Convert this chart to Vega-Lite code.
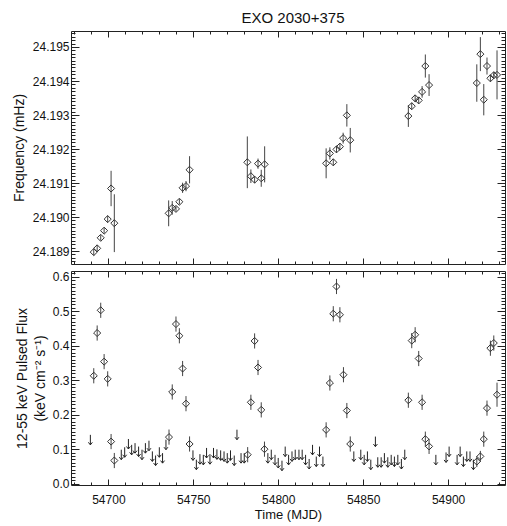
{
  "$schema": "https://vega.github.io/schema/vega-lite/v6.json",
  "padding": {"left": 11, "top": 10, "right": 3, "bottom": 4},
  "background": "white",
  "config": {
    "font": "Liberation Sans",
    "view": {"stroke": "#222", "strokeWidth": 1},
    "concat": {"spacing": 5},
    "axis": {"domain": false, "grid": false, "tickColor": "#222", "tickWidth": 1, "labelColor": "#111", "titleColor": "#111", "labelFontSize": 12, "titleFontSize": 14, "titleFontWeight": "normal", "labelFlush": false, "labelOverlap": false}
  },
  "datasets": {
    "freq": [
      {"mjd": 54691.4, "f": 24.18897, "lo": 24.18887, "hi": 24.18907},
      {"mjd": 54693.4, "f": 24.18908, "lo": 24.18898, "hi": 24.18918},
      {"mjd": 54695.5, "f": 24.18939, "lo": 24.18931, "hi": 24.18947},
      {"mjd": 54697.5, "f": 24.18960, "lo": 24.18952, "hi": 24.18968},
      {"mjd": 54699.6, "f": 24.18994, "lo": 24.18984, "hi": 24.19004},
      {"mjd": 54701.6, "f": 24.19084, "lo": 24.19032, "hi": 24.19136},
      {"mjd": 54703.5, "f": 24.18982, "lo": 24.18897, "hi": 24.19067},
      {"mjd": 54735.5, "f": 24.19011, "lo": 24.18973, "hi": 24.19049},
      {"mjd": 54737.6, "f": 24.19027, "lo": 24.19007, "hi": 24.19047},
      {"mjd": 54739.8, "f": 24.19024, "lo": 24.19016, "hi": 24.19032},
      {"mjd": 54741.8, "f": 24.19045, "lo": 24.19037, "hi": 24.19053},
      {"mjd": 54743.7, "f": 24.19086, "lo": 24.19071, "hi": 24.19101},
      {"mjd": 54745.7, "f": 24.19091, "lo": 24.19076, "hi": 24.19106},
      {"mjd": 54747.8, "f": 24.19139, "lo": 24.19099, "hi": 24.19179},
      {"mjd": 54781.8, "f": 24.19161, "lo": 24.19085, "hi": 24.19237},
      {"mjd": 54783.9, "f": 24.19120, "lo": 24.19100, "hi": 24.19140},
      {"mjd": 54786.1, "f": 24.19110, "lo": 24.19100, "hi": 24.19120},
      {"mjd": 54788.1, "f": 24.19157, "lo": 24.19142, "hi": 24.19172},
      {"mjd": 54790.0, "f": 24.19114, "lo": 24.19089, "hi": 24.19139},
      {"mjd": 54792.0, "f": 24.19155, "lo": 24.19102, "hi": 24.19208},
      {"mjd": 54828.2, "f": 24.19158, "lo": 24.19114, "hi": 24.19202},
      {"mjd": 54830.4, "f": 24.19187, "lo": 24.19169, "hi": 24.19205},
      {"mjd": 54832.4, "f": 24.19161, "lo": 24.19151, "hi": 24.19171},
      {"mjd": 54834.3, "f": 24.19199, "lo": 24.19189, "hi": 24.19209},
      {"mjd": 54836.3, "f": 24.19207, "lo": 24.19197, "hi": 24.19217},
      {"mjd": 54838.2, "f": 24.19232, "lo": 24.19216, "hi": 24.19248},
      {"mjd": 54840.4, "f": 24.19299, "lo": 24.19266, "hi": 24.19332},
      {"mjd": 54842.4, "f": 24.19226, "lo": 24.19190, "hi": 24.19262},
      {"mjd": 54876.6, "f": 24.19297, "lo": 24.19265, "hi": 24.19329},
      {"mjd": 54878.6, "f": 24.19326, "lo": 24.19316, "hi": 24.19336},
      {"mjd": 54880.6, "f": 24.19349, "lo": 24.19339, "hi": 24.19359},
      {"mjd": 54882.7, "f": 24.19343, "lo": 24.19333, "hi": 24.19353},
      {"mjd": 54884.7, "f": 24.19368, "lo": 24.19351, "hi": 24.19385},
      {"mjd": 54886.6, "f": 24.19444, "lo": 24.19410, "hi": 24.19478},
      {"mjd": 54888.8, "f": 24.19388, "lo": 24.19356, "hi": 24.19420},
      {"mjd": 54916.9, "f": 24.19394, "lo": 24.19339, "hi": 24.19449},
      {"mjd": 54919.0, "f": 24.19479, "lo": 24.19429, "hi": 24.19529},
      {"mjd": 54921.0, "f": 24.19345, "lo": 24.19299, "hi": 24.19391},
      {"mjd": 54922.9, "f": 24.19444, "lo": 24.19419, "hi": 24.19469},
      {"mjd": 54924.9, "f": 24.19408, "lo": 24.19398, "hi": 24.19418},
      {"mjd": 54926.9, "f": 24.19417, "lo": 24.19407, "hi": 24.19427},
      {"mjd": 54928.8, "f": 24.19418, "lo": 24.19346, "hi": 24.19490}
    ],
    "flux": [
      {"mjd": 54691.4, "flux": 0.313, "lo": 0.291, "hi": 0.335},
      {"mjd": 54693.4, "flux": 0.437, "lo": 0.415, "hi": 0.459},
      {"mjd": 54695.5, "flux": 0.503, "lo": 0.481, "hi": 0.525},
      {"mjd": 54697.5, "flux": 0.354, "lo": 0.332, "hi": 0.376},
      {"mjd": 54699.6, "flux": 0.304, "lo": 0.282, "hi": 0.326},
      {"mjd": 54701.6, "flux": 0.122, "lo": 0.100, "hi": 0.144},
      {"mjd": 54703.5, "flux": 0.067, "lo": 0.045, "hi": 0.089},
      {"mjd": 54735.7, "flux": 0.135, "lo": 0.113, "hi": 0.157},
      {"mjd": 54737.6, "flux": 0.266, "lo": 0.244, "hi": 0.288},
      {"mjd": 54739.8, "flux": 0.463, "lo": 0.441, "hi": 0.485},
      {"mjd": 54741.8, "flux": 0.429, "lo": 0.407, "hi": 0.451},
      {"mjd": 54743.7, "flux": 0.334, "lo": 0.312, "hi": 0.356},
      {"mjd": 54745.7, "flux": 0.232, "lo": 0.210, "hi": 0.254},
      {"mjd": 54747.8, "flux": 0.115, "lo": 0.093, "hi": 0.137},
      {"mjd": 54782.0, "flux": 0.084, "lo": 0.062, "hi": 0.106},
      {"mjd": 54783.9, "flux": 0.236, "lo": 0.214, "hi": 0.258},
      {"mjd": 54786.1, "flux": 0.414, "lo": 0.392, "hi": 0.436},
      {"mjd": 54788.1, "flux": 0.337, "lo": 0.315, "hi": 0.359},
      {"mjd": 54790.0, "flux": 0.214, "lo": 0.192, "hi": 0.236},
      {"mjd": 54791.9, "flux": 0.100, "lo": 0.078, "hi": 0.122},
      {"mjd": 54828.2, "flux": 0.156, "lo": 0.134, "hi": 0.178},
      {"mjd": 54830.4, "flux": 0.292, "lo": 0.270, "hi": 0.314},
      {"mjd": 54832.4, "flux": 0.493, "lo": 0.471, "hi": 0.515},
      {"mjd": 54834.3, "flux": 0.572, "lo": 0.550, "hi": 0.594},
      {"mjd": 54836.3, "flux": 0.490, "lo": 0.468, "hi": 0.512},
      {"mjd": 54838.4, "flux": 0.316, "lo": 0.294, "hi": 0.338},
      {"mjd": 54840.4, "flux": 0.212, "lo": 0.190, "hi": 0.234},
      {"mjd": 54842.4, "flux": 0.115, "lo": 0.093, "hi": 0.137},
      {"mjd": 54876.6, "flux": 0.242, "lo": 0.220, "hi": 0.264},
      {"mjd": 54878.6, "flux": 0.415, "lo": 0.393, "hi": 0.437},
      {"mjd": 54880.6, "flux": 0.432, "lo": 0.410, "hi": 0.454},
      {"mjd": 54882.7, "flux": 0.363, "lo": 0.341, "hi": 0.385},
      {"mjd": 54884.7, "flux": 0.236, "lo": 0.214, "hi": 0.258},
      {"mjd": 54886.6, "flux": 0.129, "lo": 0.107, "hi": 0.151},
      {"mjd": 54888.8, "flux": 0.108, "lo": 0.086, "hi": 0.130},
      {"mjd": 54916.9, "flux": 0.064, "lo": 0.048, "hi": 0.080},
      {"mjd": 54919.0, "flux": 0.079, "lo": 0.063, "hi": 0.095},
      {"mjd": 54921.0, "flux": 0.129, "lo": 0.107, "hi": 0.151},
      {"mjd": 54922.9, "flux": 0.219, "lo": 0.197, "hi": 0.241},
      {"mjd": 54924.9, "flux": 0.393, "lo": 0.371, "hi": 0.415},
      {"mjd": 54926.9, "flux": 0.408, "lo": 0.386, "hi": 0.430},
      {"mjd": 54928.8, "flux": 0.258, "lo": 0.223, "hi": 0.293}
    ],
    "ul": [
      {"mjd": 54689.4, "flux": 0.127}, {"mjd": 54707.6, "flux": 0.084}, {"mjd": 54709.6, "flux": 0.091},
      {"mjd": 54711.8, "flux": 0.115}, {"mjd": 54713.7, "flux": 0.098}, {"mjd": 54715.7, "flux": 0.103},
      {"mjd": 54717.8, "flux": 0.093}, {"mjd": 54719.8, "flux": 0.084}, {"mjd": 54721.8, "flux": 0.103},
      {"mjd": 54723.9, "flux": 0.110}, {"mjd": 54725.9, "flux": 0.079}, {"mjd": 54727.8, "flux": 0.067},
      {"mjd": 54730.0, "flux": 0.091}, {"mjd": 54731.9, "flux": 0.074}, {"mjd": 54733.9, "flux": 0.113},
      {"mjd": 54749.8, "flux": 0.082}, {"mjd": 54751.8, "flux": 0.055}, {"mjd": 54753.9, "flux": 0.071},
      {"mjd": 54755.9, "flux": 0.069}, {"mjd": 54757.8, "flux": 0.089}, {"mjd": 54759.8, "flux": 0.071},
      {"mjd": 54761.9, "flux": 0.089}, {"mjd": 54763.9, "flux": 0.085}, {"mjd": 54766.1, "flux": 0.082},
      {"mjd": 54768.1, "flux": 0.079}, {"mjd": 54770.0, "flux": 0.074}, {"mjd": 54771.9, "flux": 0.082},
      {"mjd": 54774.1, "flux": 0.067}, {"mjd": 54775.7, "flux": 0.142}, {"mjd": 54778.1, "flux": 0.074},
      {"mjd": 54780.0, "flux": 0.074}, {"mjd": 54793.9, "flux": 0.074}, {"mjd": 54795.9, "flux": 0.084},
      {"mjd": 54798.1, "flux": 0.069}, {"mjd": 54800.0, "flux": 0.060}, {"mjd": 54802.2, "flux": 0.052},
      {"mjd": 54804.1, "flux": 0.093}, {"mjd": 54806.1, "flux": 0.069}, {"mjd": 54808.1, "flux": 0.079},
      {"mjd": 54810.0, "flux": 0.084}, {"mjd": 54812.2, "flux": 0.084}, {"mjd": 54814.1, "flux": 0.084},
      {"mjd": 54816.1, "flux": 0.069}, {"mjd": 54818.2, "flux": 0.057}, {"mjd": 54820.2, "flux": 0.098},
      {"mjd": 54822.4, "flux": 0.064}, {"mjd": 54824.3, "flux": 0.093}, {"mjd": 54826.3, "flux": 0.064},
      {"mjd": 54844.5, "flux": 0.079}, {"mjd": 54848.6, "flux": 0.084}, {"mjd": 54850.6, "flux": 0.069},
      {"mjd": 54852.5, "flux": 0.079}, {"mjd": 54854.5, "flux": 0.055}, {"mjd": 54857.2, "flux": 0.122},
      {"mjd": 54858.6, "flux": 0.062}, {"mjd": 54860.6, "flux": 0.062}, {"mjd": 54862.5, "flux": 0.074},
      {"mjd": 54864.5, "flux": 0.062}, {"mjd": 54866.5, "flux": 0.069}, {"mjd": 54868.4, "flux": 0.064},
      {"mjd": 54870.4, "flux": 0.069}, {"mjd": 54872.5, "flux": 0.057}, {"mjd": 54874.5, "flux": 0.084},
      {"mjd": 54892.8, "flux": 0.069}, {"mjd": 54898.8, "flux": 0.076}, {"mjd": 54900.6, "flux": 0.093},
      {"mjd": 54905.3, "flux": 0.069}, {"mjd": 54907.1, "flux": 0.093}, {"mjd": 54909.0, "flux": 0.064},
      {"mjd": 54911.0, "flux": 0.079}, {"mjd": 54912.9, "flux": 0.079}, {"mjd": 54914.9, "flux": 0.055}
    ]
  },
  "vconcat": [
    {
      "width": 434,
      "height": 233,
      "title": {"text": "EXO 2030+375", "frame": "group", "fontSize": 15, "fontWeight": "normal", "color": "#111", "offset": 5, "dx": 5},
      "data": {"name": "freq"},
      "layer": [
        {
          "mark": {"type": "rule", "color": "#444", "strokeWidth": 1},
          "encoding": {
            "x": {"field": "mjd", "type": "quantitative", "scale": {"domain": [54678, 54933.5], "nice": false, "zero": false},
                  "axis": {"orient": "bottom", "values": [54700, 54750, 54800, 54850, 54900], "tickSize": -6, "labels": false, "title": null}},
            "y": {"field": "lo", "type": "quantitative", "scale": {"domain": [24.18862, 24.19547], "nice": false, "zero": false},
                  "axis": {"orient": "left", "values": [24.189, 24.19, 24.191, 24.192, 24.193, 24.194, 24.195], "format": ".3f", "tickSize": -8, "labelPadding": 10, "title": "Frequency (mHz)", "titleX": -52, "titleBaseline": "middle"}},
            "y2": {"field": "hi"}
          }
        },
        {
          "mark": {"type": "point", "shape": "diamond", "filled": false, "stroke": "#333", "strokeWidth": 1, "size": 50, "opacity": 1},
          "encoding": {
            "x": {"field": "mjd", "type": "quantitative", "scale": {"domain": [54678, 54933.5], "nice": false, "zero": false},
                  "axis": {"orient": "bottom", "tickCount": 25, "tickSize": -3, "labels": false, "title": null}},
            "y": {"field": "f", "type": "quantitative", "scale": {"domain": [24.18862, 24.19547], "nice": false, "zero": false},
                  "axis": {"orient": "left", "tickCount": 68, "tickSize": -4, "labels": false, "title": null}}
          }
        },
        {
          "mark": {"type": "point", "opacity": 0},
          "encoding": {
            "x": {"field": "mjd", "type": "quantitative", "scale": {"domain": [54678, 54933.5], "nice": false, "zero": false},
                  "axis": {"orient": "top", "values": [54700, 54750, 54800, 54850, 54900], "tickSize": -6, "labels": false, "title": null}},
            "y": {"field": "f", "type": "quantitative", "scale": {"domain": [24.18862, 24.19547], "nice": false, "zero": false},
                  "axis": {"orient": "right", "values": [24.189, 24.19, 24.191, 24.192, 24.193, 24.194, 24.195], "tickSize": -8, "labels": false, "title": null}}
          }
        },
        {
          "mark": {"type": "point", "opacity": 0},
          "encoding": {
            "x": {"field": "mjd", "type": "quantitative", "scale": {"domain": [54678, 54933.5], "nice": false, "zero": false},
                  "axis": {"orient": "top", "tickCount": 25, "tickSize": -3, "labels": false, "title": null}},
            "y": {"field": "f", "type": "quantitative", "scale": {"domain": [24.18862, 24.19547], "nice": false, "zero": false},
                  "axis": {"orient": "right", "tickCount": 68, "tickSize": -4, "labels": false, "title": null}}
          }
        }
      ],
      "resolve": {"axis": {"x": "independent", "y": "independent"}}
    },
    {
      "width": 434,
      "height": 214,
      "layer": [
        {
          "data": {"name": "flux"},
          "mark": {"type": "rule", "color": "#444", "strokeWidth": 1},
          "encoding": {
            "x": {"field": "mjd", "type": "quantitative", "scale": {"domain": [54678, 54933.5], "nice": false, "zero": false},
                  "axis": {"orient": "bottom", "values": [54700, 54750, 54800, 54850, 54900], "format": "d", "tickSize": -6, "labelPadding": 15, "title": "Time (MJD)", "titleFontSize": 13, "titlePadding": 3}},
            "y": {"field": "lo", "type": "quantitative", "scale": {"domain": [-0.004, 0.617], "nice": false, "zero": false},
                  "axis": {"orient": "left", "values": [0, 0.1, 0.2, 0.3, 0.4, 0.5, 0.6], "format": ".1f", "tickSize": -8, "labelPadding": 10, "title": ["12-55 keV Pulsed Flux", "(keV cm⁻² s⁻¹)"], "titleLineHeight": 18, "titleX": -49, "titleBaseline": "middle"}},
            "y2": {"field": "hi"}
          }
        },
        {
          "data": {"name": "flux"},
          "mark": {"type": "point", "shape": "diamond", "filled": false, "stroke": "#333", "strokeWidth": 1, "size": 50, "opacity": 1},
          "encoding": {
            "x": {"field": "mjd", "type": "quantitative", "scale": {"domain": [54678, 54933.5], "nice": false, "zero": false},
                  "axis": {"orient": "bottom", "tickCount": 25, "tickSize": -3, "labels": false, "title": null}},
            "y": {"field": "flux", "type": "quantitative", "scale": {"domain": [-0.004, 0.617], "nice": false, "zero": false},
                  "axis": {"orient": "left", "tickCount": 62, "tickSize": -4, "labels": false, "title": null}}
          }
        },
        {
          "data": {"name": "ul"},
          "mark": {"type": "point", "shape": "M0,-1L0,1M-0.4,0.5L0,1L0.4,0.5", "filled": false, "stroke": "#222", "strokeWidth": 1, "size": 100, "opacity": 1},
          "encoding": {
            "x": {"field": "mjd", "type": "quantitative", "scale": {"domain": [54678, 54933.5], "nice": false, "zero": false},
                  "axis": {"orient": "top", "values": [54700, 54750, 54800, 54850, 54900], "tickSize": -6, "labels": false, "title": null}},
            "y": {"field": "flux", "type": "quantitative", "scale": {"domain": [-0.004, 0.617], "nice": false, "zero": false},
                  "axis": {"orient": "right", "values": [0, 0.1, 0.2, 0.3, 0.4, 0.5, 0.6], "tickSize": -8, "labels": false, "title": null}}
          }
        },
        {
          "data": {"name": "ul"},
          "mark": {"type": "point", "opacity": 0},
          "encoding": {
            "x": {"field": "mjd", "type": "quantitative", "scale": {"domain": [54678, 54933.5], "nice": false, "zero": false},
                  "axis": {"orient": "top", "tickCount": 25, "tickSize": -3, "labels": false, "title": null}},
            "y": {"field": "flux", "type": "quantitative", "scale": {"domain": [-0.004, 0.617], "nice": false, "zero": false},
                  "axis": {"orient": "right", "tickCount": 62, "tickSize": -4, "labels": false, "title": null}}
          }
        }
      ],
      "resolve": {"axis": {"x": "independent", "y": "independent"}}
    }
  ]
}
